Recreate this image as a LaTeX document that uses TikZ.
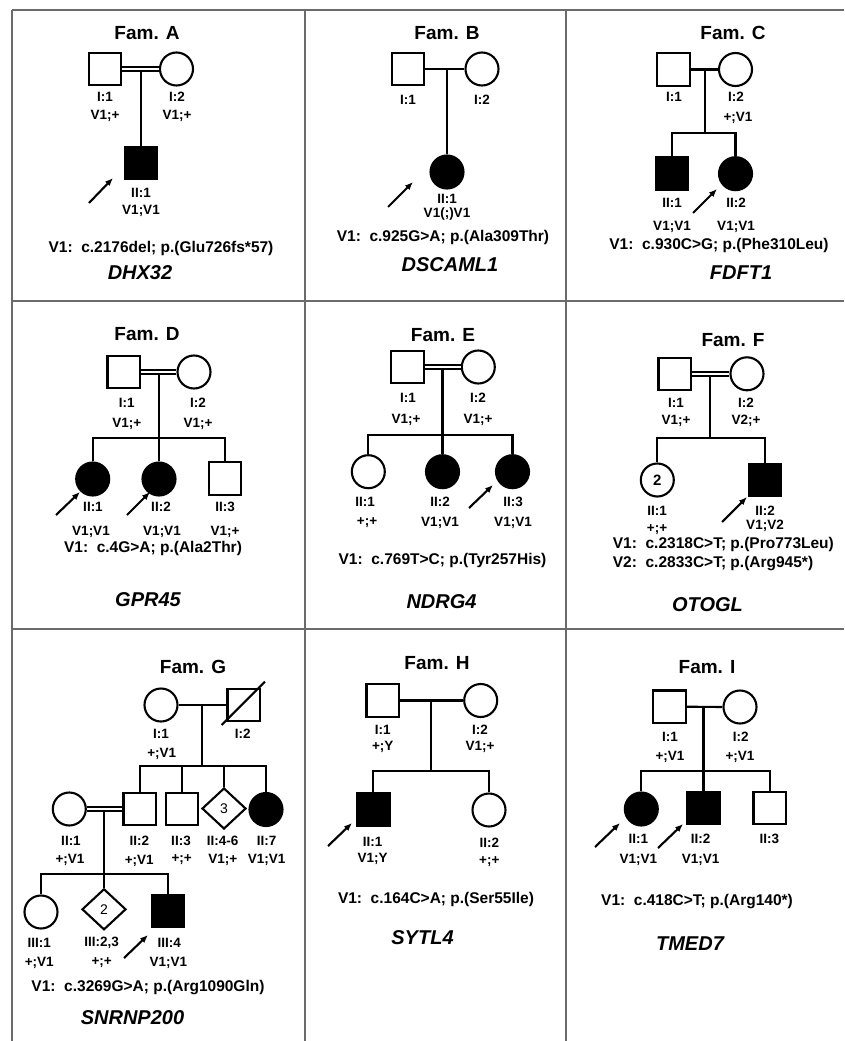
\documentclass[tikz,border=0pt]{standalone}
\usepackage{fontspec}
\setmainfont{Liberation Sans}
\usetikzlibrary{shapes.geometric,arrows.meta}
\newlength{\du}
\setlength{\du}{1pt}
\definecolor{gridcolor}{rgb}{0.420000, 0.420000, 0.420000}
\tikzset{
  person/.style={draw=black, line width=2.1\du, inner sep=0pt, fill=white},
  male/.style={person, rectangle, minimum size=32.5\du},
  female/.style={person, circle, minimum size=33\du},
  unknown/.style={person, diamond, minimum width=44\du, minimum height=41\du, font=\fontsize{14}{16}\selectfont},
  affected/.style={fill=black},
  famtitle/.style={font=\bfseries\fontsize{19}{22}\selectfont},
  idtext/.style={font=\bfseries\fontsize{13.5}{16}\selectfont, inner sep=0pt},
  vartext/.style={font=\bfseries\fontsize{15.5}{18}\selectfont, inner sep=0pt},
  genetext/.style={font=\bfseries\itshape\fontsize{20}{23}\selectfont},
  pedline/.style={line width=2.1\du},
  consang/.style={draw=black, double=white, double distance=2.5\du, line width=1.6\du},
  proband/.style={line width=2.1\du, -{Latex[length=8pt,width=6.5pt]}},
  gridline/.style={draw=gridcolor, line width=2.4\du},
}

\begin{document}
\begin{tikzpicture}
\pgftransformxscale{1.000000}
\pgftransformyscale{-1.000000}
\useasboundingbox (0.000000\du,0.000000\du) rectangle (844.000000\du,1041.000000\du);
% table
\draw[gridline] (12.000000\du,10.000000\du)--(844.000000\du,10.000000\du);
\draw[gridline] (12.000000\du,10.000000\du)--(12.000000\du,1041.000000\du);
\draw[gridline] (305.000000\du,10.000000\du)--(305.000000\du,1041.000000\du);
\draw[gridline] (566.000000\du,10.000000\du)--(566.000000\du,1041.000000\du);
\draw[gridline] (12.000000\du,301.000000\du)--(844.000000\du,301.000000\du);
\draw[gridline] (12.000000\du,629.000000\du)--(844.000000\du,629.000000\du);
% Fam. A
\node[famtitle] (Atitle) at (147.000000\du,33.000000\du){Fam. A};
\node[male] (A11) at (105.000000\du,69.000000\du){};
\node[female] (A12) at (176.500000\du,69.000000\du){};
\node[male, affected] (A21) at (141.000000\du,163.000000\du){};
\draw[consang] (A11.east)--(A12.west);
\coordinate (Am) at (141.000000\du,71.000000\du);
\draw[pedline] (Am)--(A21.north);
\node[idtext] (A11id) at (105.000000\du,97.000000\du){I:1};
\node[idtext] (A11gt) at (105.000000\du,116.000000\du){V1;+};
\node[idtext] (A12id) at (177.000000\du,97.000000\du){I:2};
\node[idtext] (A12gt) at (177.000000\du,116.000000\du){V1;+};
\node[idtext] (A21id) at (141.000000\du,193.000000\du){II:1};
\node[idtext] (A21gt) at (141.000000\du,211.000000\du){V1;V1};
\coordinate (Apa) at (89.000000\du,203.000000\du);
\coordinate (Apb) at (113.000000\du,178.000000\du);
\draw[proband] (Apa)--(Apb);
\node[vartext] (Avar) at (161.000000\du,248.000000\du){V1:\ \ c.2176del; p.(Glu726fs*57)};
\node[genetext] (Agene) at (140.000000\du,273.000000\du){DHX32};
% Fam. B
\node[famtitle] (Btitle) at (447.000000\du,33.000000\du){Fam. B};
\node[male] (B11) at (408.000000\du,69.000000\du){};
\node[female] (B12) at (482.000000\du,69.000000\du){};
\node[female, affected] (B21) at (447.000000\du,172.000000\du){};
\draw[pedline] (B11.east)--(B12.west);
\coordinate (Bm) at (447.000000\du,69.000000\du);
\draw[pedline] (Bm)--(B21.north);
\node[idtext] (B11id) at (408.000000\du,100.000000\du){I:1};
\node[idtext] (B12id) at (482.000000\du,100.000000\du){I:2};
\node[idtext] (B21id) at (447.000000\du,199.000000\du){II:1};
\node[idtext] (B21gt) at (447.000000\du,214.000000\du){V1(;)V1};
\coordinate (Bpa) at (388.000000\du,207.000000\du);
\coordinate (Bpb) at (413.000000\du,182.000000\du);
\draw[proband] (Bpa)--(Bpb);
\node[vartext] (Bvar) at (443.000000\du,237.000000\du){V1:\ \ c.925G>A; p.(Ala309Thr)};
\node[genetext] (Bgene) at (450.000000\du,265.000000\du){DSCAML1};
% Fam. C
\node[famtitle] (Ctitle) at (733.000000\du,33.000000\du){Fam. C};
\node[male] (C11) at (673.500000\du,69.500000\du){};
\node[female] (C12) at (735.500000\du,69.500000\du){};
\node[male, affected] (C21) at (672.000000\du,173.700000\du){};
\node[female, affected] (C22) at (735.500000\du,173.700000\du){};
\draw[pedline] (C11.east)--(C12.west);
\coordinate (Cm) at (705.000000\du,69.500000\du);
\coordinate (Cs) at (705.000000\du,132.700000\du);
\draw[pedline] (Cm)--(Cs);
\draw[pedline] (C21.north)|-(Cs)-|(C22.north);
\node[idtext] (C11id) at (674.000000\du,97.000000\du){I:1};
\node[idtext] (C12id) at (736.000000\du,97.000000\du){I:2};
\node[idtext] (C12gt) at (738.000000\du,118.000000\du){+;V1};
\node[idtext] (C21id) at (672.000000\du,203.000000\du){II:1};
\node[idtext] (C21gt) at (672.000000\du,227.000000\du){V1;V1};
\node[idtext] (C22id) at (736.000000\du,203.000000\du){II:2};
\node[idtext] (C22gt) at (736.000000\du,227.000000\du){V1;V1};
\coordinate (Cpa) at (693.000000\du,213.000000\du);
\coordinate (Cpb) at (717.000000\du,189.000000\du);
\draw[proband] (Cpa)--(Cpb);
\node[vartext] (Cvar) at (719.000000\du,245.000000\du){V1:\ \ c.930C>G; p.(Phe310Leu)};
\node[genetext] (Cgene) at (741.000000\du,273.000000\du){FDFT1};
% Fam. D
\node[famtitle] (Dtitle) at (147.000000\du,334.000000\du){Fam. D};
\node[male] (D11) at (123.700000\du,372.000000\du){};
\node[female] (D12) at (194.000000\du,372.000000\du){};
\node[female, affected] (D21) at (92.700000\du,479.000000\du){};
\node[female, affected] (D22) at (159.000000\du,479.000000\du){};
\node[male] (D23) at (225.000000\du,478.500000\du){};
\draw[consang] (D11.east)--(D12.west);
\coordinate (Dm) at (159.000000\du,374.000000\du);
\coordinate (Ds) at (159.000000\du,437.700000\du);
\draw[pedline] (Dm)--(D22.north);
\draw[pedline] (D21.north)|-(Ds)-|(D23.north);
\node[idtext] (D11id) at (126.700000\du,403.000000\du){I:1};
\node[idtext] (D11gt) at (126.700000\du,424.000000\du){V1;+};
\node[idtext] (D12id) at (198.000000\du,403.000000\du){I:2};
\node[idtext] (D12gt) at (198.000000\du,424.000000\du){V1;+};
\node[idtext] (D21id) at (93.000000\du,507.000000\du){II:1};
\node[idtext] (D21gt) at (91.000000\du,532.000000\du){V1;V1};
\node[idtext] (D22id) at (161.000000\du,507.000000\du){II:2};
\node[idtext] (D22gt) at (162.000000\du,532.000000\du){V1;V1};
\node[idtext] (D23id) at (225.000000\du,507.000000\du){II:3};
\node[idtext] (D23gt) at (225.000000\du,532.000000\du){V1;+};
\coordinate (Dpa) at (56.000000\du,515.000000\du);
\coordinate (Dpb) at (80.000000\du,492.000000\du);
\draw[proband] (Dpa)--(Dpb);
\coordinate (Dpc) at (127.000000\du,515.000000\du);
\coordinate (Dpd) at (150.000000\du,492.000000\du);
\draw[proband] (Dpc)--(Dpd);
\node[vartext] (Dvar) at (153.000000\du,548.000000\du){V1:\ \ c.4G>A; p.(Ala2Thr)};
\node[genetext] (Dgene) at (148.000000\du,600.000000\du){GPR45};
% Fam. E
\node[famtitle] (Etitle) at (443.000000\du,335.000000\du){Fam. E};
\node[male] (E11) at (407.300000\du,367.000000\du){};
\node[female] (E12) at (478.300000\du,367.000000\du){};
\node[female] (E21) at (368.300000\du,471.700000\du){};
\node[female, affected] (E22) at (442.500000\du,471.700000\du){};
\node[female, affected] (E23) at (512.500000\du,471.700000\du){};
\draw[consang] (E11.east)--(E12.west);
\coordinate (Em) at (442.500000\du,369.000000\du);
\coordinate (Es) at (442.500000\du,435.000000\du);
\draw[pedline] (Em)--(E22.north);
\draw[pedline] (E21.north)|-(Es)-|(E23.north);
\node[idtext] (E11id) at (408.000000\du,398.000000\du){I:1};
\node[idtext] (E11gt) at (406.000000\du,420.000000\du){V1;+};
\node[idtext] (E12id) at (478.000000\du,398.000000\du){I:2};
\node[idtext] (E12gt) at (478.000000\du,420.000000\du){V1;+};
\node[idtext] (E21id) at (365.000000\du,502.000000\du){II:1};
\node[idtext] (E21gt) at (367.000000\du,523.000000\du){+;+};
\node[idtext] (E22id) at (440.000000\du,502.000000\du){II:2};
\node[idtext] (E22gt) at (440.000000\du,523.000000\du){V1;V1};
\node[idtext] (E23id) at (513.000000\du,502.000000\du){II:3};
\node[idtext] (E23gt) at (513.000000\du,523.000000\du){V1;V1};
\coordinate (Epa) at (469.000000\du,508.000000\du);
\coordinate (Epb) at (493.000000\du,485.000000\du);
\draw[proband] (Epa)--(Epb);
\node[vartext] (Evar) at (442.500000\du,560.000000\du){V1:\ \ c.769T>C; p.(Tyr257His)};
\node[genetext] (Egene) at (441.500000\du,602.000000\du){NDRG4};
% Fam. F
\node[famtitle] (Ftitle) at (733.000000\du,340.000000\du){Fam. F};
\node[male] (F11) at (674.700000\du,373.800000\du){};
\node[female] (F12) at (747.000000\du,373.800000\du){};
\node[female, font=\bfseries\fontsize{15}{17}\selectfont] (F21) at (657.300000\du,480.000000\du){2};
\node[male, affected] (F22) at (765.000000\du,480.000000\du){};
\draw[consang] (F11.east)--(F12.west);
\coordinate (Fm) at (710.000000\du,375.500000\du);
\coordinate (Fs) at (710.000000\du,437.700000\du);
\draw[pedline] (Fm)--(Fs);
\draw[pedline] (F21.north)|-(Fs)-|(F22.north);
\node[idtext] (F11id) at (676.000000\du,403.000000\du){I:1};
\node[idtext] (F11gt) at (676.000000\du,421.000000\du){V1;+};
\node[idtext] (F12id) at (746.000000\du,403.000000\du){I:2};
\node[idtext] (F12gt) at (746.000000\du,421.000000\du){V2;+};
\node[idtext] (F21id) at (657.000000\du,511.000000\du){II:1};
\node[idtext] (F21gt) at (657.000000\du,530.000000\du){+;+};
\node[idtext] (F22id) at (765.000000\du,511.000000\du){II:2};
\node[idtext] (F22gt) at (765.000000\du,526.000000\du){V1;V2};
\coordinate (Fpa) at (722.000000\du,522.000000\du);
\coordinate (Fpb) at (747.000000\du,497.000000\du);
\draw[proband] (Fpa)--(Fpb);
\node[vartext, anchor=west] (Fvar1) at (612.700000\du,544.000000\du){V1:\ \ c.2318C>T; p.(Pro773Leu)};
\node[vartext, anchor=west] (Fvar2) at (612.700000\du,564.000000\du){V2:\ \ c.2833C>T; p.(Arg945*)};
\node[genetext] (Fgene) at (707.500000\du,605.000000\du){OTOGL};
% Fam. G
\node[famtitle] (Gtitle) at (193.000000\du,667.000000\du){Fam. G};
\node[female] (G11) at (161.000000\du,705.000000\du){};
\node[male] (G12) at (243.700000\du,705.000000\du){};
\draw[pedline] (G11.east)--(G12.west);
\coordinate (Gd1) at (221.700000\du,725.000000\du);
\coordinate (Gd2) at (265.000000\du,681.700000\du);
\draw[pedline] (Gd1)--(Gd2);
\node[female] (G21) at (69.300000\du,809.000000\du){};
\node[male] (G22) at (139.700000\du,809.000000\du){};
\node[male] (G23) at (182.000000\du,809.000000\du){};
\node[unknown] (G24) at (224.000000\du,808.500000\du){3};
\node[female, affected] (G27) at (266.000000\du,809.500000\du){};
\coordinate (Gm1) at (202.300000\du,705.000000\du);
\coordinate (Gs1) at (202.300000\du,765.700000\du);
\draw[pedline] (Gm1)--(Gs1);
\draw[pedline] (G22.north)|-(Gs1)-|(G27.north);
\draw[pedline] (G23.north)--(G23.north|-Gs1);
\draw[pedline] (G24.north)--(G24.north|-Gs1);
\draw[consang] (G21.east)--(G22.west);
\node[female] (G31) at (41.000000\du,912.000000\du){};
\node[unknown] (G32) at (104.000000\du,909.300000\du){2};
\node[male, affected] (G34) at (168.000000\du,911.000000\du){};
\coordinate (Gm2) at (104.000000\du,811.000000\du);
\coordinate (Gs2) at (104.000000\du,874.000000\du);
\draw[pedline] (Gm2)--(G32.north);
\draw[pedline] (G31.north)|-(Gs2)-|(G34.north);
\node[idtext] (G11id) at (161.000000\du,734.000000\du){I:1};
\node[idtext] (G11gt) at (161.700000\du,754.000000\du){+;V1};
\node[idtext] (G12id) at (242.700000\du,734.000000\du){I:2};
\node[idtext] (G21id) at (71.000000\du,840.700000\du){II:1};
\node[idtext] (G21gt) at (70.000000\du,860.000000\du){+;V1};
\node[idtext] (G22id) at (139.300000\du,840.700000\du){II:2};
\node[idtext] (G22gt) at (139.300000\du,861.000000\du){+;V1};
\node[idtext] (G23id) at (181.000000\du,840.700000\du){II:3};
\node[idtext] (G23gt) at (181.700000\du,860.000000\du){+;+};
\node[idtext] (G24id) at (222.700000\du,840.700000\du){II:4-6};
\node[idtext] (G24gt) at (222.700000\du,860.000000\du){V1;+};
\node[idtext] (G27id) at (266.700000\du,840.700000\du){II:7};
\node[idtext] (G27gt) at (266.700000\du,860.000000\du){V1;V1};
\node[idtext] (G31id) at (39.300000\du,942.700000\du){III:1};
\node[idtext] (G31gt) at (39.300000\du,962.700000\du){+;V1};
\node[idtext] (G32id) at (101.700000\du,942.700000\du){III:2,3};
\node[idtext] (G32gt) at (101.700000\du,962.700000\du){+;+};
\node[idtext] (G34id) at (169.300000\du,942.700000\du){III:4};
\node[idtext] (G34gt) at (168.300000\du,962.700000\du){V1;V1};
\coordinate (Gpa) at (124.000000\du,958.000000\du);
\coordinate (Gpb) at (148.000000\du,935.000000\du);
\draw[proband] (Gpa)--(Gpb);
\node[vartext] (Gvar) at (148.000000\du,988.000000\du){V1:\ \ c.3269G>A; p.(Arg1090Gln)};
\node[genetext] (Ggene) at (132.500000\du,1018.000000\du){SNRNP200};
% Fam. H
\node[famtitle] (Htitle) at (437.000000\du,663.000000\du){Fam. H};
\node[male] (H11) at (382.700000\du,700.500000\du){};
\node[female] (H12) at (480.700000\du,700.500000\du){};
\node[male, affected] (H21) at (373.300000\du,809.700000\du){};
\node[female] (H22) at (489.000000\du,810.000000\du){};
\draw[pedline] (H11.east)--(H12.west);
\coordinate (Hm) at (431.000000\du,700.500000\du);
\coordinate (Hs) at (431.000000\du,771.000000\du);
\draw[pedline] (Hm)--(Hs);
\draw[pedline] (H21.north)|-(Hs)-|(H22.north);
\node[idtext] (H11id) at (382.700000\du,730.000000\du){I:1};
\node[idtext] (H11gt) at (382.700000\du,747.000000\du){+;Y};
\node[idtext] (H12id) at (480.000000\du,730.000000\du){I:2};
\node[idtext] (H12gt) at (480.000000\du,747.000000\du){V1;+};
\node[idtext] (H21id) at (372.700000\du,842.000000\du){II:1};
\node[idtext] (H21gt) at (372.700000\du,859.000000\du){V1;Y};
\node[idtext] (H22id) at (489.300000\du,843.000000\du){II:2};
\node[idtext] (H22gt) at (489.300000\du,862.000000\du){+;+};
\coordinate (Hpa) at (328.000000\du,846.000000\du);
\coordinate (Hpb) at (352.000000\du,823.000000\du);
\draw[proband] (Hpa)--(Hpb);
\node[vartext] (Hvar) at (436.000000\du,899.000000\du){V1:\ \ c.164C>A; p.(Ser55Ile)};
\node[genetext] (Hgene) at (422.500000\du,938.000000\du){SYTL4};
% Fam. I
\node[famtitle] (Ititle) at (707.000000\du,667.000000\du){Fam. I};
\node[male] (I11) at (669.300000\du,706.700000\du){};
\node[female] (I12) at (740.000000\du,707.000000\du){};
\node[female, affected] (I21) at (641.300000\du,809.000000\du){};
\node[male, affected] (I22) at (703.500000\du,808.000000\du){};
\node[male] (I23) at (769.700000\du,808.000000\du){};
\draw[pedline] (I11.east)--(I12.west);
\coordinate (Im) at (703.500000\du,707.000000\du);
\coordinate (Is) at (703.500000\du,771.000000\du);
\draw[pedline] (Im)--(I22.north);
\draw[pedline] (I21.north)|-(Is)-|(I23.north);
\node[idtext] (I11id) at (670.000000\du,737.000000\du){I:1};
\node[idtext] (I11gt) at (670.000000\du,757.000000\du){+;V1};
\node[idtext] (I12id) at (740.700000\du,737.000000\du){I:2};
\node[idtext] (I12gt) at (740.000000\du,757.000000\du){+;V1};
\node[idtext] (I21id) at (638.300000\du,839.000000\du){II:1};
\node[idtext] (I21gt) at (638.300000\du,860.000000\du){V1;V1};
\node[idtext] (I22id) at (700.700000\du,839.000000\du){II:2};
\node[idtext] (I22gt) at (700.700000\du,860.000000\du){V1;V1};
\node[idtext] (I23id) at (769.300000\du,839.000000\du){II:3};
\coordinate (Ipa) at (595.000000\du,847.000000\du);
\coordinate (Ipb) at (620.000000\du,823.000000\du);
\draw[proband] (Ipa)--(Ipb);
\coordinate (Ipc) at (658.000000\du,848.000000\du);
\coordinate (Ipd) at (683.000000\du,824.000000\du);
\draw[proband] (Ipc)--(Ipd);
\node[vartext] (Ivar) at (697.000000\du,902.000000\du){V1:\ \ c.418C>T; p.(Arg140*)};
\node[genetext] (Igene) at (690.000000\du,944.000000\du){TMED7};
\end{tikzpicture}
\end{document}
